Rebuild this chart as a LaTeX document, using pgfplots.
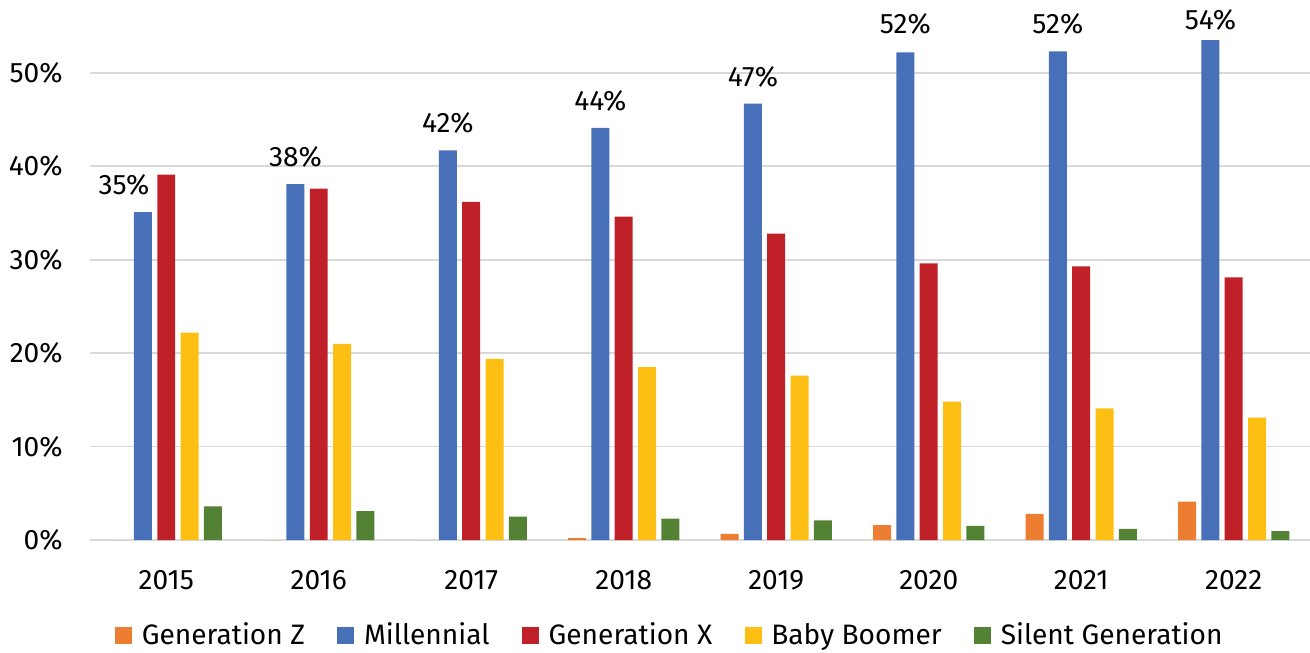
\documentclass[border=0pt]{standalone}
\usepackage{fontspec}
\setmainfont{Fira Sans}
\usepackage{pgfplots}
\usepackage{pgfplotstable}
\pgfplotsset{compat=1.18}

\definecolor{cZ}{HTML}{ED7D31}
\definecolor{cM}{HTML}{4870B8}
\definecolor{cX}{HTML}{C02028}
\definecolor{cB}{HTML}{FDBF14}
\definecolor{cS}{HTML}{548235}

% share of each generation by year (x = 0..7 for 2015..2022)
\pgfplotstableread{
x  genz  mill  genx  boom  silent  lab  dx     dy
0  0.0   35.1  39.1  22.2  3.6     35   -0.38  0.54
1  0.0   38.1  37.6  21.0  3.1     38   0      0.54
2  0.0   41.7  36.2  19.4  2.5     42   0      0.54
3  0.2   44.1  34.6  18.5  2.3     44   0      0.54
4  0.65  46.7  32.8  17.6  2.1     47   0      0.54
5  1.6   52.2  29.6  14.8  1.5     52   0      0.56
6  2.8   52.3  29.3  14.1  1.2     52   0      0.54
7  4.1   53.5  28.1  13.1  0.95    54   0      0.40
}\gens

\begin{document}
\begin{tikzpicture}
\begin{axis}[
  at={(0,0)}, anchor=south west,
  scale only axis,
  width=24.4cm, height=10.8cm,
  ybar, bar width=0.118,
  xmin=-0.5, xmax=7.5,
  ymin=0, ymax=57.8,
  xtick={0,...,7},
  xticklabels={2015,2016,2017,2018,2019,2020,2021,2022},
  ytick={0,10,20,30,40,50},
  yticklabel={\pgfmathprintnumber{\tick}\%},
  /pgf/number format/assume math mode=true,
  axis line style={draw=none},
  tick style={draw=none},
  ymajorgrids,
  grid style={gray!30, line width=1pt},
  tick label style={font=\fontsize{16}{19}\selectfont},
  xticklabel style={inner sep=0pt, anchor=north, yshift=-0.45cm},
  yticklabel style={inner sep=0pt, anchor=east, xshift=-0.54cm},
  legend style={at={(0.476,-0.176)}, anchor=center, draw=none,
    legend columns=-1, font=\fontsize{16}{19}\selectfont,
    /tikz/every odd column/.append style={column sep=0.12cm},
    /tikz/every even column/.append style={column sep=0.58cm}},
  legend image code/.code={\fill[#1] (0cm,-0.17cm) rectangle (0.34cm,0.17cm);},
]
\addplot[fill=cZ, draw=none, bar shift=-0.306] table[x=x, y=genz] {\gens};
\addplot[fill=cM, draw=none, bar shift=-0.153,
  point meta=explicit,
  visualization depends on={\thisrow{dx} \as \labdx},
  visualization depends on={\thisrow{dy} \as \labdy},
  nodes near coords={\pgfmathprintnumber{\pgfplotspointmeta}\%},
  every node near coord/.append style={font=\fontsize{16}{19}\selectfont,
    text=black, anchor=center, inner sep=0pt,
    xshift=\labdx cm, yshift=\labdy cm}]
  table[x=x, y=mill, meta=lab] {\gens};
\addplot[fill=cX, draw=none, bar shift=0] table[x=x, y=genx] {\gens};
\addplot[fill=cB, draw=none, bar shift=0.153] table[x=x, y=boom] {\gens};
\addplot[fill=cS, draw=none, bar shift=0.306] table[x=x, y=silent] {\gens};
\legend{Generation Z, Millennial, Generation X, Baby Boomer, Silent Generation}
\end{axis}
\pgfresetboundingbox
\path (-1.8cm,-2.24cm) rectangle (24.4cm,10.8cm);
\end{tikzpicture}
\end{document}
